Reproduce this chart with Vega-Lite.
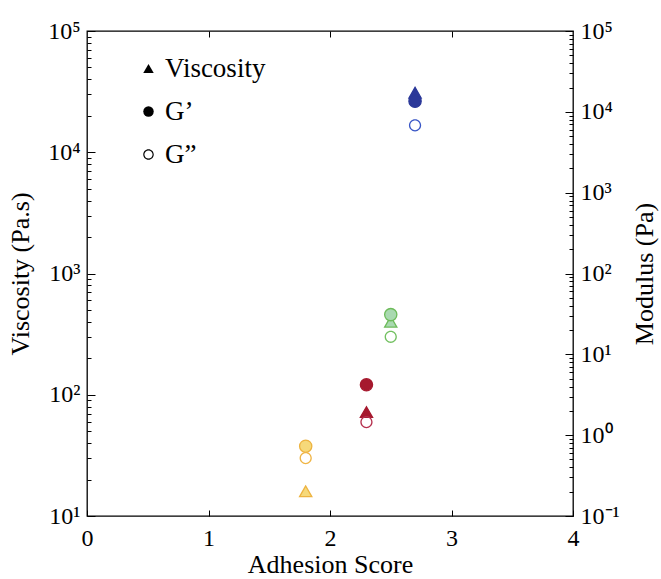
{
  "$schema": "https://vega.github.io/schema/vega-lite/v6.json",
  "width": 486,
  "height": 485,
  "autosize": {"type": "none"},
  "padding": {"left": 87, "top": 31, "right": 88, "bottom": 63},
  "background": "white",
  "config": {
    "view": {"stroke": "black", "strokeWidth": 1.3},
    "font": "Liberation Serif",
    "axis": {
      "labelFont": "Liberation Serif",
      "titleFont": "Liberation Serif",
      "labelColor": "black",
      "titleColor": "black",
      "titleFontWeight": "normal",
      "tickColor": "black",
      "tickWidth": 1,
      "domain": false,
      "grid": false,
      "labelFontSize": 24,
      "titleFontSize": 26,
      "labelOverlap": false,
      "labelFlush": false
    }
  },
  "data": {
    "values": [
      {"sample": "A", "score": 1.8, "measure": "Viscosity", "value": 16},
      {"sample": "A", "score": 1.8, "measure": "G’", "value": 0.73},
      {"sample": "A", "score": 1.8, "measure": "G”", "value": 0.52},
      {"sample": "B", "score": 2.3, "measure": "Viscosity", "value": 72},
      {"sample": "B", "score": 2.3, "measure": "G’", "value": 4.2},
      {"sample": "B", "score": 2.3, "measure": "G”", "value": 1.45},
      {"sample": "C", "score": 2.5, "measure": "Viscosity", "value": 400},
      {"sample": "C", "score": 2.5, "measure": "G’", "value": 31},
      {"sample": "C", "score": 2.5, "measure": "G”", "value": 16.5},
      {"sample": "D", "score": 2.7, "measure": "Viscosity", "value": 31000},
      {"sample": "D", "score": 2.7, "measure": "G’", "value": 13500},
      {"sample": "D", "score": 2.7, "measure": "G”", "value": 6800}
    ]
  },
  "layer": [
    {
      "transform": [{"filter": "datum.measure == 'Viscosity'"}],
      "mark": {"type": "point", "filled": true, "size": 150, "strokeWidth": 1.3, "opacity": 1},
      "encoding": {
        "x": {
          "field": "score", "type": "quantitative",
          "scale": {"domain": [0, 4], "nice": false, "zero": false},
          "axis": {"orient": "bottom", "values": [0, 1, 2, 3, 4], "format": "d", "tickSize": -6, "labelPadding": 16, "title": "Adhesion Score", "titlePadding": 1}
        },
        "y": {
          "field": "value", "type": "quantitative",
          "scale": {"type": "log", "domain": [10, 100000], "nice": false},
          "axis": {
            "orient": "left",
            "values": [10,20,30,40,50,60,70,80,90,100,200,300,400,500,600,700,800,900,1000,2000,3000,4000,5000,6000,7000,8000,9000,10000,20000,30000,40000,50000,60000,70000,80000,90000,100000],
            "labelExpr": "datum.value == 10 ? '10¹' : datum.value == 100 ? '10²' : datum.value == 1000 ? '10³' : datum.value == 10000 ? '10⁴' : datum.value == 100000 ? '10⁵' : ''",
            "tickSize": {"condition": {"test": "indexof([10,100,1000,10000,100000], datum.value) >= 0", "value": -8}, "value": -4},
            "labelPadding": 15,
            "title": "Viscosity (Pa.s)",
            "titlePadding": 14
          }
        },
        "shape": {
          "field": "measure", "type": "nominal",
          "scale": {"domain": ["Viscosity", "G’", "G”"], "range": ["triangle-up", "circle", "M-1,0A1,1,0,1,0,1,0A1,1,0,1,0,-1,0ZM-0.78,0A0.78,0.78,0,1,1,0.78,0A0.78,0.78,0,1,1,-0.78,0Z"]},
          "legend": {
            "title": null, "orient": "none", "legendX": 48, "legendY": 24,
            "symbolSize": 110, "symbolFillColor": "black", "symbolStrokeColor": "black", "symbolStrokeWidth": 0,
            "labelFont": "Liberation Serif", "labelFontSize": 27, "labelColor": "black",
            "rowPadding": 15, "labelOffset": 3, "padding": 0
          }
        },
        "fill": {
          "field": "sample", "type": "nominal",
          "scale": {"domain": ["A", "B", "C", "D"], "range": ["#F6D97A", "#A6192E", "#A9D9B0", "#2B3899"]},
          "legend": null
        },
        "stroke": {
          "field": "sample", "type": "nominal",
          "scale": {"domain": ["A", "B", "C", "D"], "range": ["#EDB340", "#A6192E", "#6DBB5A", "#2B3899"]},
          "legend": null
        }
      }
    },
    {
      "transform": [{"filter": "datum.measure == 'G’'"}],
      "mark": {"type": "point", "filled": true, "size": 150, "strokeWidth": 1.3, "opacity": 1},
      "encoding": {
        "x": {
          "field": "score", "type": "quantitative",
          "scale": {"domain": [0, 4], "nice": false, "zero": false},
          "axis": {"orient": "top", "values": [1, 2, 3], "labels": false, "tickSize": -6, "title": null}
        },
        "y": {
          "field": "value", "type": "quantitative",
          "scale": {"type": "log", "domain": [0.1, 100000], "nice": false},
          "axis": {
            "orient": "right",
            "values": [0.1,0.2,0.3,0.4,0.5,0.6,0.7,0.8,0.9,1,2,3,4,5,6,7,8,9,10,20,30,40,50,60,70,80,90,100,200,300,400,500,600,700,800,900,1000,2000,3000,4000,5000,6000,7000,8000,9000,10000,20000,30000,40000,50000,60000,70000,80000,90000,100000],
            "labelExpr": "datum.value == 0.1 ? '10⁻¹' : datum.value == 1 ? '10⁰' : datum.value == 10 ? '10¹' : datum.value == 100 ? '10²' : datum.value == 1000 ? '10³' : datum.value == 10000 ? '10⁴' : datum.value == 100000 ? '10⁵' : ''",
            "tickSize": {"condition": {"test": "indexof([0.1,1,10,100,1000,10000,100000], datum.value) >= 0", "value": -8}, "value": -4},
            "labelPadding": 15,
            "title": "Modulus (Pa)",
            "titleAngle": 270,
            "titlePadding": 38
          }
        },
        "shape": {"field": "measure", "type": "nominal"},
        "fill": {"field": "sample", "type": "nominal", "legend": null},
        "stroke": {"field": "sample", "type": "nominal", "legend": null}
      }
    },
    {
      "transform": [{"filter": "datum.measure == 'G”'"}],
      "mark": {"type": "point", "filled": true, "size": 150, "strokeWidth": 0, "opacity": 1},
      "encoding": {
        "x": {"field": "score", "type": "quantitative", "axis": null},
        "y": {
          "field": "value", "type": "quantitative",
          "scale": {"type": "log", "domain": [0.1, 100000], "nice": false},
          "axis": null
        },
        "shape": {"field": "measure", "type": "nominal"},
        "color": {
          "field": "sample", "type": "nominal",
          "scale": {"domain": ["A", "B", "C", "D"], "range": ["#F0B545", "#B5304E", "#72C060", "#3A57C6"]},
          "legend": null
        }
      }
    }
  ],
  "resolve": {
    "scale": {"y": "independent"},
    "axis": {"x": "independent", "y": "independent"}
  }
}
